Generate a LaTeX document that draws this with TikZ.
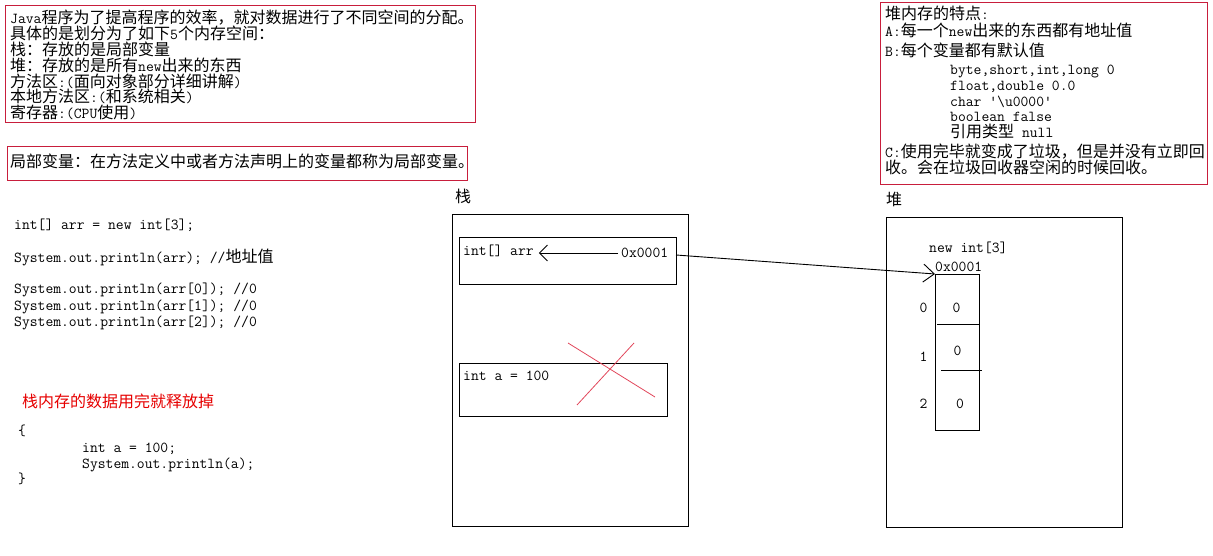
\documentclass[tikz,border=0pt]{standalone}
\usepackage{fontspec}
\newfontfamily\cjk{Noto Sans CJK SC}
\usetikzlibrary{arrows.meta}
\definecolor{boxred}{RGB}{200,30,60}
\definecolor{xred}{RGB}{225,70,90}
\definecolor{txtred}{RGB}{230,0,0}
\newcommand\ct[1]{{\cjk\fontsize{16}{16}\selectfont #1}}
\newcommand\mt[1]{{\ttfamily\fontsize{15.2}{16}\selectfont #1}}
\begin{document}
\begin{tikzpicture}[x=1pt,y=-1pt,
  txt/.style={anchor=west,inner sep=0pt,text height=12pt,text depth=2pt,font=\ttfamily\fontsize{15.2}{16}\selectfont},
  redbox/.style={draw=boxred,line width=1pt,anchor=north west,inner sep=0pt},
  blkbox/.style={draw=black,line width=1pt,anchor=north west,inner sep=0pt},
  barb/.style={line width=0.9pt,-{Straight Barb[length=#1]}},
  thinline/.style={line width=1pt}]
\useasboundingbox (0,0) rectangle (1213,556);

% ---- top-left info box
\node[redbox,minimum width=470pt,minimum height=117pt] (info) at (5,5) {};
\node[txt] (i1) at (10,18.5) {\mt{Java}\ct{程序为了提高程序的效率，就对数据进行了不同空间的分配。}};
\node[txt] (i2) at (10,34.4) {\ct{具体的是划分为了如下}\mt{5}\ct{个内存空间：}};
\node[txt] (i3) at (10,50.3) {\ct{栈：存放的是局部变量}};
\node[txt] (i4) at (10,66.2) {\ct{堆：存放的是所有}\mt{new}\ct{出来的东西}};
\node[txt] (i5) at (10,82.1) {\ct{方法区}\mt{:(}\ct{面向对象部分详细讲解}\mt{)}};
\node[txt] (i6) at (10,98.0) {\ct{本地方法区}\mt{:(}\ct{和系统相关}\mt{)}};
\node[txt] (i7) at (10,113.9) {\ct{寄存器}\mt{:(CPU}\ct{使用}\mt{)}};

% ---- local variable box
\node[redbox,minimum width=460pt,minimum height=34pt] (localbox) at (7,146) {};
\node[txt] (localtxt) at (10,163) {\ct{局部变量：在方法定义中或者方法声明上的变量都称为局部变量。}};

% ---- heap characteristics box
\node[redbox,minimum width=327pt,minimum height=182pt] (heapinfo) at (880,2) {};
\node[txt] (h1) at (885,15) {\ct{堆内存的特点}\mt{:}};
\node[txt] (h2) at (885,32) {\mt{A:}\ct{每一个}\mt{new}\ct{出来的东西都有地址值}};
\node[txt] (h3) at (885,52) {\mt{B:}\ct{每个变量都有默认值}};
\node[txt] (h4) at (950,70) {byte,short,int,long 0};
\node[txt] (h5) at (950,86) {float,double 0.0};
\node[txt] (h6) at (950,101.5) {char '\textbackslash u0000'};
\node[txt] (h7) at (950,117) {boolean false};
\node[txt] (h8) at (950,133) {\ct{引用类型}\mt{ null}};
\node[txt] (h9) at (885,153) {\mt{C:}\ct{使用完毕就变成了垃圾，但是并没有立即回}};
\node[txt] (h10) at (885,168.5) {\ct{收。会在垃圾回收器空闲的时候回收。}};

% ---- code on the left
\node[txt] (c1) at (14,225) {int[] arr = new int[3];};
\node[txt] (c2) at (14,257) {System.out.println(arr); //\ct{地址值}};
\node[txt] (c3) at (14,289) {System.out.println(arr[0]); //0};
\node[txt] (c4) at (14,305) {System.out.println(arr[1]); //0};
\node[txt] (c5) at (14,321) {System.out.println(arr[2]); //0};
\node[txt,text=txtred] (c6) at (22,402) {\ct{栈内存的数据用完就释放掉}};
\node[txt] (c7) at (18,430) {\{};
\node[txt] (c8) at (82,447) {int a = 100;};
\node[txt] (c9) at (82,463) {System.out.println(a);};
\node[txt] (c10) at (18,478) {\}};

% ---- stack
\node[txt] (stacklabel) at (455,198) {\ct{栈}};
\node[blkbox,minimum width=236pt,minimum height=312pt] (stack) at (452,214) {};
\node[blkbox,minimum width=217pt,minimum height=47pt] (sb1) at (459,237) {};
\node[txt] (arr) at (463,250) {int[] arr};
\node[txt] (addr) at (621,253) {0x0001};
\draw[barb=8pt,shorten <=3pt,shorten >=5pt] (addr.west) -- (arr.east |- addr.west);
\node[blkbox,minimum width=208pt,minimum height=53pt] (sb2) at (459,363) {};
\node[txt] (avar) at (463,375) {int a = 100};
\draw[xred,line width=0.8pt] (568,343) -- (655,397);
\draw[xred,line width=0.8pt] (577,405) -- (634,343);

% ---- heap
\node[txt] (heaplabel) at (886,201) {\ct{堆}};
\node[blkbox,minimum width=236pt,minimum height=310pt] (heap) at (886,217) {};
\node[txt] (newint) at (929,248) {new int[3]};
\node[txt] (haddr) at (935,266) {0x0001};
\node[blkbox,minimum width=44pt,minimum height=156pt] (array) at (935,274) {};
\draw[thinline] (937,324) -- (979,324);
\draw[thinline] (941,370) -- (982,370);
\node[txt] (idx0) at (919.5,307) {0};
\node[txt] (idx1) at (919.5,356) {1};
\node[txt] (idx2) at (919.5,403) {2};
\node[txt] (v0) at (952.5,307) {0};
\node[txt] (v1) at (953.5,350) {0};
\node[txt] (v2) at (956,403) {0};

% ---- reference connector
\coordinate (src) at (676,255);
\draw[line width=0.9pt,-{Straight Barb[length=11pt,width=18pt]}] (src) -- (array.north west);
\end{tikzpicture}
\end{document}
